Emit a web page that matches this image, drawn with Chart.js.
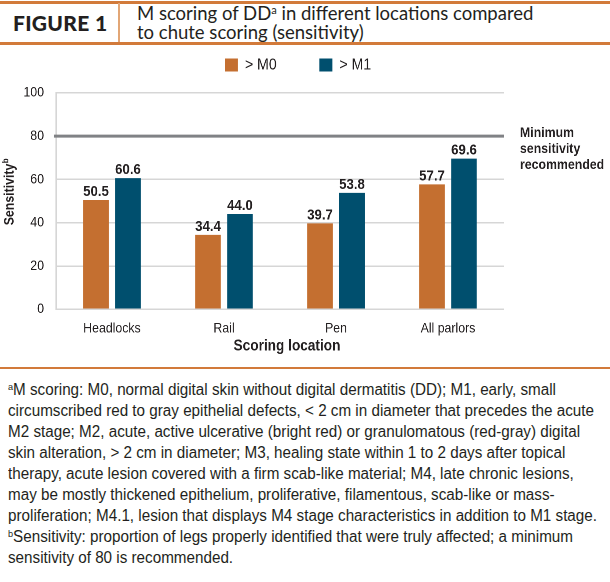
<!DOCTYPE html>
<html>
<head>
<meta charset="utf-8">
<script src="https://cdn.jsdelivr.net/npm/chart.js@4/dist/chart.umd.min.js"></script>
<style>
  html, body { margin: 0; padding: 0; background: #fff; }
  body { width: 610px; height: 582px; position: relative; overflow: hidden; }
  .rule { position: absolute; background: #d27a3a; }
  #fig { position: absolute; left: 13px; top: 9px; font-family: Lato, sans-serif; font-weight: 900; font-size: 21px; color: #231f20; letter-spacing: 0.3px; line-height: 28px; }
  #title { position: absolute; left: 137px; top: 4px; font-family: Lato, sans-serif; font-size: 18.5px; line-height: 19px; color: #231f20; }
  #title sup { font-size: 60%; line-height: 0; vertical-align: 0.5em; }
  #wrap { position: absolute; left: 0; top: 50px; width: 693px; height: 312px; transform: scaleX(0.88); transform-origin: 0 0; }
  #foot { position: absolute; left: 8px; top: 378.5px; font-family: "Liberation Sans", Arial, sans-serif; font-size: 16px; line-height: 21px; color: #231f20; white-space: nowrap; transform-origin: 0 0; }
  #foot span { display: block; }
  #foot sup { font-size: 60%; line-height: 0; vertical-align: 0.5em; }
</style>
</head>
<body>
<div class="rule" style="left:0;top:1px;width:610px;height:3px;"></div>
<div class="rule" style="left:118px;top:3px;width:2px;height:40px;background:#e2a676;"></div>
<div class="rule" style="left:0;top:42px;width:610px;height:3px;"></div>
<div id="fig">FIGURE 1</div>
<div id="title">M scoring of DD<sup>a</sup> in different locations compared<br>to chute scoring (sensitivity)</div>
<div id="wrap"><canvas id="c"></canvas></div>
<div class="rule" style="left:0;top:367px;width:610px;height:2px;"></div>
<div id="foot"><span><sup>a</sup>M scoring: M0, normal digital skin without digital dermatitis (DD); M1, early, small</span><span id="refline">circumscribed red to gray epithelial defects, &lt; 2 cm in diameter that precedes the acute</span><span>M2 stage; M2, acute, active ulcerative (bright red) or granulomatous (red-gray) digital</span><span>skin alteration, &gt; 2 cm in diameter; M3, healing state within 1 to 2 days after topical</span><span>therapy, acute lesion covered with a firm scab-like material; M4, late chronic lesions,</span><span>may be mostly thickened epithelium, proliferative, filamentous, scab-like or mass-</span><span>proliferation; M4.1, lesion that displays M4 stage characteristics in addition to M1 stage.</span><span><sup>b</sup>Sensitivity: proportion of legs properly identified that were truly affected; a minimum</span><span>sensitivity of 80 is recommended.</span></div>
<script>
// ---- data ----
const categories = ['Headlocks', 'Rail', 'Pen', 'All parlors'];
const seriesNames = ['> M0', '> M1'];
const m0Values = [50.5, 34.4, 39.7, 57.7];
const m1Values = [60.6, 44.0, 53.8, 69.6];
const yTickValues = [0, 20, 40, 60, 80, 100];
const thresholdValue = 80;
const thresholdLabel = ['Minimum', 'sensitivity', 'recommended'];
const xAxisTitle = 'Scoring location';
const yAxisTitle = 'Sensitivity';
const yAxisTitleSup = 'b';

// footnote: condense to the reference line width
(function () {
  const foot = document.getElementById('foot');
  const w = document.getElementById('refline').getBoundingClientRect().width;
  foot.style.transform = 'scaleX(' + (589 / w) + ')';
})();

const SX = 0.88; // horizontal condensing applied to the chart wrapper
const FONT = '"Liberation Sans", Arial, sans-serif';
const ORANGE = '#c46f30';
const BLUE = '#004f6e';
const TEXT = '#231f20';

const extras = {
  id: 'extras',
  afterDatasetsDraw(chart) {
    const ctx = chart.ctx;
    const ca = chart.chartArea;
    const y = chart.scales.y;
    // threshold line
    const ty = y.getPixelForValue(thresholdValue);
    ctx.save();
    ctx.strokeStyle = '#808285';
    ctx.lineWidth = 3;
    ctx.beginPath();
    ctx.moveTo(ca.left - 2 / SX, ty);
    ctx.lineTo(ca.right, ty);
    ctx.stroke();
    // threshold label
    ctx.fillStyle = TEXT;
    ctx.font = 'bold 14px ' + FONT;
    ctx.textAlign = 'left';
    ctx.textBaseline = 'middle';
    thresholdLabel.forEach((t, i) => ctx.fillText(t, ca.right + 18.2, ty - 3 + i * 16));
    // value labels
    ctx.font = 'bold 15px ' + FONT;
    ctx.textAlign = 'center';
    ctx.textBaseline = 'alphabetic';
    chart.data.datasets.forEach((ds, di) => {
      const meta = chart.getDatasetMeta(di);
      meta.data.forEach((bar, i) => {
        ctx.fillText(ds.data[i].toFixed(1), bar.x, bar.y - 4);
      });
    });
    // x axis title
    ctx.font = 'bold 15.5px ' + FONT;
    ctx.textBaseline = 'middle';
    ctx.fillText(xAxisTitle, (ca.left + ca.right) / 2 + 7 / SX, ca.bottom + 37);
    // y axis title (rotated, compensating the wrapper's horizontal condensing)
    ctx.translate(10 / SX, (ca.top + ca.bottom) / 2 - 9);
    ctx.rotate(-Math.PI / 2);
    ctx.scale(SX, 1 / SX);
    ctx.font = 'bold 14px ' + FONT;
    const w = ctx.measureText(yAxisTitle).width;
    ctx.font = 'bold 9px ' + FONT;
    const ws = ctx.measureText(yAxisTitleSup).width;
    const start = -(w + ws) / 2;
    ctx.textAlign = 'left';
    ctx.font = 'bold 14px ' + FONT;
    ctx.fillText(yAxisTitle, start, 0);
    ctx.font = 'bold 9px ' + FONT;
    ctx.fillText(yAxisTitleSup, start + w + 0.5, -4);
    ctx.restore();
  }
};

new Chart(document.getElementById('c'), {
  type: 'bar',
  data: {
    labels: categories,
    datasets: [
      { label: seriesNames[0], data: m0Values, backgroundColor: ORANGE, yAxisID: 'y' },
      { label: seriesNames[1], data: m1Values, backgroundColor: BLUE, yAxisID: 'y' }
    ]
  },
  options: {
    responsive: true,
    maintainAspectRatio: false,
    devicePixelRatio: 2,
    animation: false,
    categoryPercentage: 0.571,
    barPercentage: 0.8,
    layout: { padding: { top: -41.5, right: 15.7, left: 0, bottom: 0 } },
    plugins: {
      legend: {
        position: 'top',
        labels: {
          boxWidth: 14.8, boxHeight: 13, padding: 48.5,
          color: TEXT,
          font: { family: FONT, size: 16 }
        }
      },
      subtitle: { display: true, text: '', weight: 900, font: { size: 1, lineHeight: 1 }, padding: { top: 0, bottom: 8.8 } },
      tooltip: { enabled: false }
    },
    scales: {
      x: {
        grid: { display: false },
        border: { display: false },
        ticks: { color: TEXT, font: { family: FONT, size: 14 }, padding: 3 },
        afterFit(s) { s.height = 52.7; }
      },
      y: {
        min: 0, max: 100,
        afterBuildTicks(s) { s.ticks = yTickValues.map(v => ({ value: v })); },
        grid: { color: '#d6d6d6', lineWidth: 1.5, drawTicks: false },
        border: { display: true, color: '#d6d6d6', width: 1.7 },
        ticks: { color: TEXT, font: { family: FONT, size: 14 }, padding: 13.6 },
        afterFit(s) { s.width = 63.6; }
      },
      yR: {
        position: 'right',
        min: 0, max: 100,
        grid: { display: false },
        border: { display: false },
        ticks: { display: false },
        afterFit(s) { s.width = 104.6; }
      }
    }
  },
  plugins: [extras]
});
</script>
</body>
</html>
